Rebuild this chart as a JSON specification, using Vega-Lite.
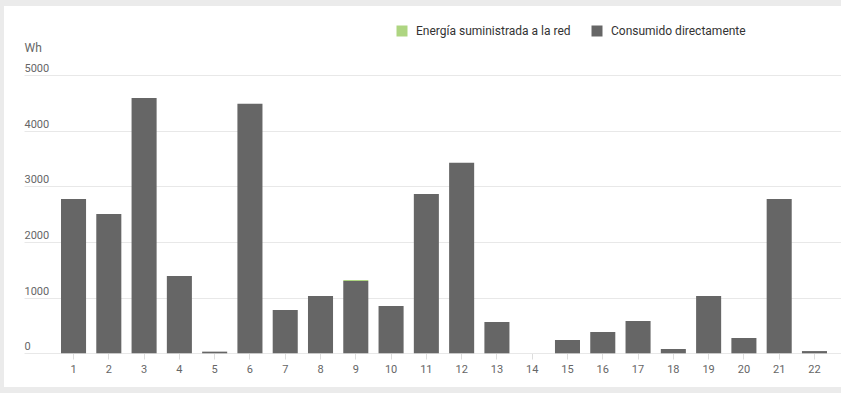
{
  "$schema": "https://vega.github.io/schema/vega-lite/v6.json",
  "width": 837,
  "height": 381,
  "autosize": {"type": "none"},
  "padding": {"left": 4, "top": 6, "right": 0, "bottom": 6},
  "background": "#ebebeb",
  "config": {"view": {"fill": "white", "stroke": null}, "font": "Roboto"},
  "data": {
    "values": [
      {"dia": 1, "serie": "Consumido directamente", "wh": 2775},
      {"dia": 2, "serie": "Consumido directamente", "wh": 2505},
      {"dia": 3, "serie": "Consumido directamente", "wh": 4592},
      {"dia": 4, "serie": "Consumido directamente", "wh": 1390},
      {"dia": 5, "serie": "Consumido directamente", "wh": 30},
      {"dia": 6, "serie": "Consumido directamente", "wh": 4487},
      {"dia": 7, "serie": "Consumido directamente", "wh": 779},
      {"dia": 8, "serie": "Consumido directamente", "wh": 1031},
      {"dia": 9, "serie": "Consumido directamente", "wh": 1300},
      {"dia": 9, "serie": "Energía suministrada a la red", "wh": 18},
      {"dia": 10, "serie": "Consumido directamente", "wh": 851},
      {"dia": 11, "serie": "Consumido directamente", "wh": 2865},
      {"dia": 12, "serie": "Consumido directamente", "wh": 3428},
      {"dia": 13, "serie": "Consumido directamente", "wh": 563},
      {"dia": 14, "serie": "Consumido directamente", "wh": 0},
      {"dia": 15, "serie": "Consumido directamente", "wh": 239},
      {"dia": 16, "serie": "Consumido directamente", "wh": 383},
      {"dia": 17, "serie": "Consumido directamente", "wh": 581},
      {"dia": 18, "serie": "Consumido directamente", "wh": 77},
      {"dia": 19, "serie": "Consumido directamente", "wh": 1031},
      {"dia": 20, "serie": "Consumido directamente", "wh": 275},
      {"dia": 21, "serie": "Consumido directamente", "wh": 2775},
      {"dia": 22, "serie": "Consumido directamente", "wh": 40}
    ]
  },
  "mark": {"type": "bar"},
  "encoding": {
    "x": {
      "field": "dia",
      "type": "ordinal",
      "scale": {"range": [57, 823], "paddingInner": 0.29, "paddingOuter": 0},
      "axis": {
        "title": null,
        "labelAngle": 0,
        "domain": false,
        "offset": -34,
        "tickSize": 6,
        "tickColor": "#dddddd",
        "labelPadding": 4,
        "labelFontSize": 11,
        "labelColor": "#666666",
        "labelFont": "Roboto"
      }
    },
    "y": {
      "field": "wh",
      "type": "quantitative",
      "stack": "zero",
      "scale": {"domain": [-606, 6246], "nice": false, "zero": false},
      "axis": {
        "title": "Wh",
        "values": [0, 1000, 2000, 3000, 4000, 5000],
        "format": "d",
        "domain": false,
        "grid": false,
        "ticks": true,
        "tickSize": -817,
        "tickColor": "#e8e8e8",
        "tickWidth": 1,
        "labelPadding": 817,
        "offset": -20,
        "labelAlign": "left",
        "labelBaseline": "alphabetic",
        "labelOffset": -3.5,
        "labelFontSize": 11,
        "labelColor": "#666666",
        "labelFont": "Roboto",
        "titleAngle": 0,
        "titleAlign": "left",
        "titleBaseline": "alphabetic",
        "titleX": 0,
        "titleY": 45,
        "titleFontSize": 12,
        "titleFontWeight": "normal",
        "titleColor": "#666666",
        "titleFont": "Roboto"
      }
    },
    "color": {
      "field": "serie",
      "type": "nominal",
      "scale": {
        "domain": ["Energía suministrada a la red", "Consumido directamente"],
        "range": ["#aed581", "#666666"]
      },
      "legend": {
        "title": null,
        "orient": "none",
        "legendX": 392,
        "legendY": 19,
        "direction": "horizontal",
        "symbolType": "square",
        "symbolSize": 121,
        "symbolStrokeWidth": 0,
        "symbolOpacity": 1,
        "labelFontSize": 12,
        "labelColor": "#333333",
        "labelFont": "Roboto",
        "labelOffset": 8,
        "columnPadding": 20
      }
    },
    "order": {"field": "serie", "sort": "ascending"}
  }
}
